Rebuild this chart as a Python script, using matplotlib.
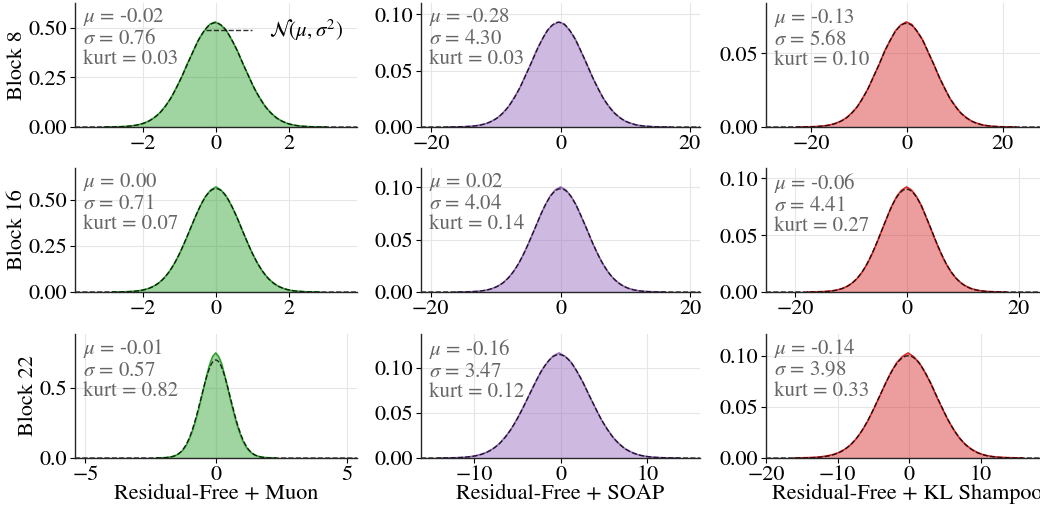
import numpy as np
import matplotlib.pyplot as plt
from matplotlib.ticker import MaxNLocator

plt.rcParams['font.family'] = ['STIXGeneral', 'Liberation Serif', 'DejaVu Serif']
plt.rcParams['mathtext.fontset'] = 'stix'
plt.rcParams['font.size'] = 15

blocks = ['Block 8', 'Block 16', 'Block 22']
methods = ['Residual-Free + Muon', 'Residual-Free + SOAP', 'Residual-Free + KL Shampoo']
colors = ['tab:green', 'tab:purple', 'tab:red']

# fitted statistics, rows = blocks, cols = methods
mu = [[-0.02, -0.28, -0.13],
      [0.00, 0.02, -0.06],
      [-0.01, -0.16, -0.14]]
sigma = [[0.76, 4.30, 5.68],
         [0.71, 4.04, 4.41],
         [0.57, 3.47, 3.98]]
kurt = [[0.03, 0.03, 0.10],
        [0.07, 0.14, 0.27],
        [0.82, 0.12, 0.33]]

# histogram densities, 41 bins covering mu +/- 4 sigma
dens_muon_8 = [0.0001, 0.0004, 0.0008, 0.0017, 0.0031, 0.0059, 0.0102, 0.018, 0.0292, 0.0470,
               0.0708, 0.1046, 0.1448, 0.1985, 0.2540, 0.3205, 0.3790, 0.4405, 0.4830, 0.5165,
               0.5290, 0.5130, 0.4865, 0.4360, 0.3835, 0.3160, 0.2575, 0.1950, 0.1472, 0.1028,
               0.0718, 0.0461, 0.0298, 0.0176, 0.0106, 0.0057, 0.0033, 0.0015, 0.0008, 0.0004, 0.0001]
dens_soap_8 = [0.00003, 0.00007, 0.00014, 0.00029, 0.00055, 0.0010, 0.0019, 0.0031, 0.0053, 0.0082,
               0.0127, 0.0182, 0.0261, 0.0345, 0.0455, 0.0560, 0.0678, 0.0772, 0.0860, 0.0905,
               0.0931, 0.0912, 0.0853, 0.0778, 0.0670, 0.0566, 0.0449, 0.0351, 0.0256, 0.0186,
               0.0125, 0.0084, 0.0051, 0.0033, 0.0018, 0.0010, 0.00057, 0.00027, 0.00014, 0.00007, 0.00003]
dens_kl_8 = [0.00003, 0.00006, 0.00012, 0.00023, 0.00044, 0.0008, 0.0014, 0.0025, 0.0040, 0.0062,
             0.0096, 0.0137, 0.0197, 0.0261, 0.0345, 0.0422, 0.0514, 0.0583, 0.0652, 0.0692,
             0.0712, 0.0695, 0.0645, 0.0590, 0.0506, 0.0428, 0.0339, 0.0266, 0.0193, 0.0141,
             0.0094, 0.0064, 0.0039, 0.0025, 0.0014, 0.0008, 0.00043, 0.00022, 0.00011, 0.00006, 0.00003]
dens_muon_16 = [0.0002, 0.0004, 0.0009, 0.0018, 0.0035, 0.0063, 0.0113, 0.0190, 0.0318, 0.0497,
                0.0758, 0.1108, 0.1555, 0.2095, 0.2720, 0.3390, 0.4065, 0.4690, 0.5205, 0.5545,
                0.5710, 0.5530, 0.5195, 0.4680, 0.4090, 0.3395, 0.2730, 0.2100, 0.1560, 0.1115,
                0.0755, 0.0502, 0.0314, 0.0193, 0.0112, 0.0063, 0.0035, 0.0018, 0.0009, 0.0004, 0.0002]
dens_soap_16 = [0.00004, 0.00008, 0.00016, 0.0003, 0.0006, 0.0011, 0.0020, 0.0034, 0.0056, 0.0087,
                0.0133, 0.0194, 0.0272, 0.0368, 0.0478, 0.0596, 0.0716, 0.0826, 0.0918, 0.0978,
                0.1005, 0.0976, 0.0915, 0.0828, 0.0712, 0.0601, 0.0478, 0.0370, 0.0273, 0.0195,
                0.0133, 0.0089, 0.0056, 0.0034, 0.0020, 0.0011, 0.0006, 0.0003, 0.00016, 0.00008, 0.00004]
dens_kl_16 = [0.00005, 0.0001, 0.0002, 0.00035, 0.0006, 0.0011, 0.0019, 0.0032, 0.0051, 0.0080,
              0.0120, 0.0175, 0.0246, 0.0334, 0.0435, 0.0545, 0.0655, 0.0758, 0.0842, 0.0898,
              0.0925, 0.0897, 0.0840, 0.0760, 0.0652, 0.0546, 0.0436, 0.0335, 0.0247, 0.0176,
              0.0121, 0.0081, 0.0052, 0.0032, 0.0019, 0.0011, 0.0006, 0.00034, 0.0002, 0.0001, 0.00005]
dens_muon_22 = [0.0006, 0.0010, 0.0017, 0.0029, 0.0050, 0.0085, 0.0140, 0.0225, 0.0360, 0.0560,
                0.0860, 0.1280, 0.1820, 0.2480, 0.3260, 0.4120, 0.5020, 0.5920, 0.6700, 0.7260,
                0.7500, 0.7240, 0.6720, 0.5900, 0.5040, 0.4100, 0.3280, 0.2470, 0.1830, 0.1270,
                0.0870, 0.0555, 0.0365, 0.0222, 0.0142, 0.0084, 0.0051, 0.0028, 0.0017, 0.0010, 0.0006]
dens_soap_22 = [0.00005, 0.0001, 0.0002, 0.0004, 0.0007, 0.0013, 0.0023, 0.0040, 0.0064, 0.0103,
                0.0155, 0.0230, 0.0318, 0.0433, 0.0558, 0.0699, 0.0832, 0.0962, 0.1058, 0.1135,
                0.1168, 0.1130, 0.1064, 0.0956, 0.0838, 0.0694, 0.0561, 0.0428, 0.0322, 0.0226,
                0.0157, 0.0101, 0.0066, 0.0039, 0.0023, 0.0013, 0.0007, 0.0004, 0.0002, 0.0001, 0.00005]
dens_kl_22 = [0.00008, 0.00015, 0.0003, 0.0005, 0.0008, 0.0014, 0.0023, 0.0037, 0.0058, 0.0090,
              0.0134, 0.0195, 0.0274, 0.0371, 0.0484, 0.0604, 0.0727, 0.0840, 0.0935, 0.0995,
              0.1030, 0.0992, 0.0930, 0.0835, 0.0730, 0.0600, 0.0485, 0.0372, 0.0277, 0.0196,
              0.0135, 0.0091, 0.0058, 0.0036, 0.0022, 0.0013, 0.0008, 0.0005, 0.0003, 0.00015, 0.00008]

densities = [[dens_muon_8, dens_soap_8, dens_kl_8],
             [dens_muon_16, dens_soap_16, dens_kl_16],
             [dens_muon_22, dens_soap_22, dens_kl_22]]

# x ranges (value extent per panel) and tick positions
x_lims = [[(-3.86, 3.86), (-21.6, 21.6), (-29.4, 29.4)],
          [(-3.86, 3.86), (-21.5, 21.5), (-25.2, 25.2)],
          [(-5.4, 5.4), (-16.1, 16.1), (-20.0, 19.4)]]
x_ticks = [[[-2, 0, 2], [-20, 0, 20], [-20, 0, 20]],
           [[-2, 0, 2], [-20, 0, 20], [-20, 0, 20]],
           [[-5, 0, 5], [-10, 0, 10], [-20, -10, 0, 10]]]

fig = plt.figure(figsize=(10.4, 5.08), dpi=100)
lefts = [0.0721, 0.4048, 0.7365]
widths = [0.2712, 0.2683, 0.2712]
bottoms = [0.750, 0.4252, 0.0984]
height = 0.244


def normal_pdf(x, m, s):
    return np.exp(-0.5 * ((x - m) / s) ** 2) / (s * np.sqrt(2 * np.pi))


for i in range(3):
    for j in range(3):
        ax = fig.add_axes([lefts[j], bottoms[i], widths[j], height])
        m, s, k = mu[i][j], sigma[i][j], kurt[i][j]
        d = np.array(densities[i][j])
        c = colors[j]
        lo, hi = x_lims[i][j]

        x = m + s * np.linspace(-4, 4, len(d))
        ax.fill_between(x, d, color=c, alpha=0.45, lw=0)
        ax.plot(x, d, color=c, lw=1.2)

        xs = np.linspace(lo, hi, 400)
        ax.plot(xs, normal_pdf(xs, m, s), 'k--', lw=1.0, alpha=0.8,
                label=r'$\mathcal{N}(\mu,\sigma^2)$')

        ax.set_xlim(lo, hi)
        ax.set_ylim(0, d.max() * 1.18)
        ax.set_xticks(x_ticks[i][j])
        ax.yaxis.set_major_locator(MaxNLocator(nbins=3, steps=[1, 2.5, 5, 10]))

        ax.text(0.028, 0.975, f'$\\mu$ = {m:.2f}\n$\\sigma$ = {s:.2f}\nkurt = {k:.2f}',
                transform=ax.transAxes, ha='left', va='top', color='0.4',
                fontsize=15, linespacing=1.05)

        ax.grid(True, color='0.9', lw=0.8)
        ax.set_axisbelow(True)
        for side in ['top', 'right']:
            ax.spines[side].set_visible(False)
        for side in ['left', 'bottom']:
            ax.spines[side].set_color('0.15')
            ax.spines[side].set_linewidth(1.0)
        ax.tick_params(direction='out', length=3.5, width=0.8, labelsize=16, pad=2)

        if j == 0:
            ax.set_ylabel(blocks[i], fontsize=16, labelpad=1)
        if i == 2:
            ax.set_xlabel(methods[j], fontsize=16, labelpad=-1)
        if i == 0 and j == 0:
            ax.legend(loc='upper right', frameon=False, fontsize=15,
                      handlelength=2.2, borderaxespad=0.3)

fig.savefig('out.png', dpi=100)
